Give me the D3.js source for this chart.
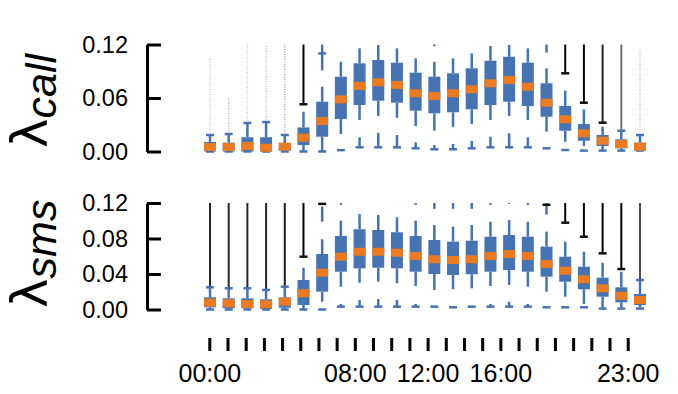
<!DOCTYPE html>
<html>
<head>
<meta charset="utf-8">
<script src="https://cdn.jsdelivr.net/npm/d3@7"></script>
<style>
  body { margin: 0; background: #fff; }
</style>
</head>
<body>
<div id="chart"></div>
<script>
var hours = [0, 1, 2, 3, 4, 5, 6, 7, 8, 9, 10, 11, 12, 13, 14, 15, 16, 17, 18, 19, 20, 21, 22, 23];
var labelledHours = [0, 8, 12, 16, 23];

// lambda call, per hour
var callQ1  = [0.000, 0.000, 0.000, 0.000, 0.001, 0.0073, 0.0166, 0.0364, 0.0521, 0.0570, 0.0547, 0.0458, 0.0428, 0.0440, 0.0473, 0.0521, 0.0558, 0.0510, 0.0390, 0.0233, 0.0121, 0.0062, 0.0036, 0.0010];
var callMed = [0.005, 0.005, 0.0062, 0.0043, 0.0054, 0.0155, 0.0342, 0.0585, 0.0735, 0.0776, 0.0746, 0.0653, 0.0622, 0.0653, 0.0698, 0.0765, 0.0802, 0.0727, 0.0547, 0.0361, 0.0204, 0.0121, 0.0084, 0.0054];
var callQ3  = [0.0107, 0.0100, 0.016, 0.016, 0.0095, 0.027, 0.0558, 0.0839, 0.0989, 0.1026, 0.0996, 0.0884, 0.0839, 0.0877, 0.0933, 0.1018, 0.1063, 0.0996, 0.0765, 0.051, 0.0308, 0.0185, 0.0137, 0.0099];
var callWLo = [0, 0, 0, 0, 0, 0, 0, 0.0196, 0.0353, 0.0398, 0.0379, 0.0286, 0.0233, 0.0278, 0.0308, 0.0353, 0.0398, 0.0353, 0.0222, 0.011, 0.0062, 0.001, 0.001, 0.001];
var callWHi = [0.0185, 0.0196, 0.032, 0.033, 0.0185, 0.0446, 0.0727, 0.1007, 0.1157, 0.1194, 0.1157, 0.1045, 0.1007, 0.1045, 0.110, 0.1183, 0.1194, 0.1157, 0.0933, 0.0682, 0.0473, 0.0278, 0.0233, 0.0185];
var callLowCap  = [0, 0, 0, 0, 0, 0, 0, 0.0015, 0.0047, 0.0047, 0.0047, 0.0036, 0.0025, 0.0025, 0.0036, 0.0047, 0.0047, 0.0047, 0.0036, 0.0017, 0.001, 0.001, 0.001, 0.001];
var callLowStem = [null, null, null, null, null, null, null, null, 0.0159, 0.021, 0.0185, 0.0103, 0.0073, 0.0084, 0.0118, 0.0166, 0.0204, 0.0159, null, null, null, null, null, null];
var callCapHi   = [0.0185, 0.0196, 0.032, 0.033, 0.0185, 0.053, 0.110, null, null, null, null, null, null, null, null, null, null, null, null, 0.0877, 0.0547, 0.0323, 0.0233, 0.0185];
var callOutTop  = [0.105, 0.060, 0.12, 0.12, 0.12, 0.12, null, null, null, null, null, null, null, null, null, null, null, null, null, 0.12, 0.12, 0.12, 0.12, 0.114];
var callOutDensity = [0.2, 0.25, 0.2, 0.25, 0.35, 1, 0, 0, 0, 0, 0, 0, 0, 0, 0, 0, 0, 0, 0, 1, 1, 0.85, 0.55, 0.25];
var callHiStemLo = [null, null, null, null, null, null, 0.091, null, null, null, null, null, 0.118, null, null, null, null, null, 0.111, null, null, null, null, null];
var callHiStemHi = [null, null, null, null, null, null, 0.12, null, null, null, null, null, 0.12, null, null, null, null, null, 0.12, null, null, null, null, null];

// lambda sms, per hour
var smsQ1  = [0.0025, 0.0014, 0.0014, 0.0006, 0.002, 0.0051, 0.0201, 0.0426, 0.0464, 0.0471, 0.0464, 0.0426, 0.040, 0.0389, 0.0397, 0.0426, 0.0445, 0.0426, 0.037, 0.0313, 0.0228, 0.0144, 0.0081, 0.0051];
var smsMed = [0.0077, 0.007, 0.0062, 0.0059, 0.0088, 0.0183, 0.0415, 0.0595, 0.0651, 0.0651, 0.064, 0.0603, 0.0566, 0.0558, 0.0566, 0.0603, 0.0625, 0.0603, 0.0513, 0.0437, 0.034, 0.0239, 0.0155, 0.0107];
var smsQ3  = [0.0137, 0.0126, 0.0126, 0.0115, 0.0137, 0.0332, 0.0625, 0.0828, 0.0904, 0.0896, 0.087, 0.0828, 0.0783, 0.0764, 0.0775, 0.082, 0.0839, 0.082, 0.0708, 0.0595, 0.0482, 0.0358, 0.025, 0.0175];
var smsWLo = [0, 0, 0, 0, 0, 0, 0.0088, 0.0257, 0.0302, 0.0313, 0.0295, 0.0265, 0.022, 0.0228, 0.0239, 0.0265, 0.0276, 0.0257, 0.020, 0.0144, 0.0062, 0.001, 0.001, 0.001];
var smsWHi = [0.025, 0.0239, 0.0239, 0.022, 0.0257, 0.0471, 0.0791, 0.1001, 0.1076, 0.1065, 0.1039, 0.1001, 0.0952, 0.0933, 0.0952, 0.0989, 0.1008, 0.0989, 0.0877, 0.0764, 0.0651, 0.0527, 0.0426, 0.0332];
var smsLowCap  = [0, 0, 0, 0, 0, 0, 0, 0.0032, 0.0032, 0.0032, 0.0032, 0.0032, 0.0032, 0.0025, 0.0032, 0.0032, 0.0032, 0.0032, 0.0025, 0.0025, 0.0025, 0.001, 0.001, 0.001];
var smsLowStem = [null, null, null, null, null, null, null, 0.0062, 0.0107, 0.0118, 0.0107, 0.0062, null, null, null, 0.0062, 0.0088, 0.0062, null, null, null, null, null, null];
var smsCapHi   = [0.025, 0.0239, 0.0239, 0.022, 0.0257, 0.0595, 0.119, null, null, null, null, null, null, null, null, null, null, null, 0.118, 0.0978, 0.082, 0.0633, 0.0456, 0.0332];
var smsOutTop  = [0.12, 0.12, 0.12, 0.12, 0.12, 0.12, null, null, null, null, null, null, null, null, null, null, null, null, null, 0.12, 0.12, 0.12, 0.12, 0.12];
var smsOutDensity = [0.85, 0.85, 0.85, 0.85, 0.9, 1, 1, 0, 0, 0, 0, 0, 0, 0, 0, 0, 0, 0, 1, 1, 1, 1, 1, 0.7];
var smsHiStemLo = [null, null, null, null, null, null, 0.099, 0.118, null, null, null, 0.118, 0.1135, 0.1135, 0.1135, 0.118, 0.119, 0.118, 0.107, null, null, null, null, null];
var smsHiStemHi = [null, null, null, null, null, null, 0.116, 0.12, null, null, null, 0.12, 0.12, 0.12, 0.12, 0.12, 0.12, 0.12, 0.12, null, null, null, null, null];

var callTicks = [0, 0.06, 0.12];
var smsTicks = [0, 0.04, 0.08, 0.12];

var width = 678, height = 394;
var blue = "#4673b1", orange = "#ea7b22";
var font = "'Liberation Sans', Arial, sans-serif";

var svg = d3.select("#chart").append("svg")
	.attr("width", width)
	.attr("height", height);

var x = d3.scaleLinear().domain([0, 23]).range([210, 640]);
var xTick = d3.scaleLinear().domain([0, 23]).range([209.3, 627.7]);

function drawPanel(p) {
	var y = d3.scaleLinear().domain([0, 0.12]).range([p.bottom, p.top]);
	var g = svg.append("g");

	var axis = d3.axisLeft(y)
		.tickValues(p.ticks)
		.tickSizeInner(-14)
		.tickSizeOuter(0)
		.tickPadding(19)
		.tickFormat(d3.format(".2f"));
	var ga = g.append("g")
		.attr("transform", "translate(147,0)")
		.call(axis);
	ga.select(".domain").attr("stroke-width", 3);
	ga.selectAll(".tick line").attr("stroke-width", 3);
	ga.selectAll(".tick text")
		.attr("fill", "#000")
		.style("font-family", font)
		.style("font-size", "23.5px");

	var label = g.append("text")
		.attr("transform", "translate(47," + p.labelY + ") rotate(-90)")
		.style("font-family", "'DejaVu Sans', sans-serif")
		.style("font-size", "50px")
		.attr("fill", "#000")
		.text("\u03bb");
	label.append("tspan")
		.attr("dy", 9)
		.style("font-family", font)
		.style("font-size", "43px")
		.style("font-style", "italic")
		.text(p.sub);

	var bw = 12, cw = 8;

	hours.forEach(function(h, i) {
		var cx = x(h);

		// outlier streaks
		if (p.outTop[i] !== null && p.density[i] > 0) {
			g.append("line")
				.attr("x1", cx).attr("x2", cx)
				.attr("y1", y(p.capHi[i])).attr("y2", y(p.outTop[i]))
				.attr("stroke", "#000")
				.attr("stroke-width", p.density[i] < 0.5 ? 1.5 : 2)
				.attr("stroke-opacity", p.density[i])
				.attr("stroke-dasharray", p.density[i] < 0.5 ? "1 1.5" : null);
		}
		if (p.hiStemLo[i] !== null) {
			g.append("line")
				.attr("x1", cx).attr("x2", cx)
				.attr("y1", y(p.hiStemLo[i])).attr("y2", y(p.hiStemHi[i]))
				.attr("stroke", blue)
				.attr("stroke-width", 2.5);
		}

		// whiskers
		g.append("line")
			.attr("x1", cx).attr("x2", cx)
			.attr("y1", y(p.q3[i])).attr("y2", y(p.wHi[i]))
			.attr("stroke", blue).attr("stroke-width", 2.5);
		g.append("line")
			.attr("x1", cx).attr("x2", cx)
			.attr("y1", y(p.q1[i])).attr("y2", y(p.wLo[i]))
			.attr("stroke", blue).attr("stroke-width", 2.5);

		// lower stem and cap
		if (p.lowStem[i] !== null) {
			g.append("line")
				.attr("x1", cx).attr("x2", cx)
				.attr("y1", y(p.lowCap[i])).attr("y2", y(p.lowStem[i]))
				.attr("stroke", blue).attr("stroke-width", 2.5);
		}
		g.append("line")
			.attr("x1", cx - cw / 2).attr("x2", cx + cw / 2)
			.attr("y1", y(p.lowCap[i])).attr("y2", y(p.lowCap[i]))
			.attr("stroke", blue).attr("stroke-width", 2.5);

		// upper cap
		if (p.capHi[i] !== null) {
			g.append("line")
				.attr("x1", cx - cw / 2).attr("x2", cx + cw / 2)
				.attr("y1", y(p.capHi[i])).attr("y2", y(p.capHi[i]))
				.attr("stroke", p.density[i] >= 0.8 && p.wHi[i] < p.capHi[i] ? "#111" : blue)
				.attr("stroke-width", 2.5);
		}

		// box
		g.append("rect")
			.attr("x", cx - bw / 2)
			.attr("y", y(p.q3[i]))
			.attr("width", bw)
			.attr("height", y(p.q1[i]) - y(p.q3[i]))
			.attr("fill", blue);

		// median
		g.append("rect")
			.attr("x", cx - bw / 2)
			.attr("y", y(p.med[i]) - 4)
			.attr("width", bw)
			.attr("height", 8)
			.attr("fill", orange);
	});
}

drawPanel({
	top: 44.5, bottom: 151.5, ticks: callTicks, sub: "call", labelY: 148,
	q1: callQ1, med: callMed, q3: callQ3, wLo: callWLo, wHi: callWHi,
	lowCap: callLowCap, lowStem: callLowStem, capHi: callCapHi,
	outTop: callOutTop, density: callOutDensity,
	hiStemLo: callHiStemLo, hiStemHi: callHiStemHi
});

drawPanel({
	top: 203, bottom: 309.5, ticks: smsTicks, sub: "sms", labelY: 308,
	q1: smsQ1, med: smsMed, q3: smsQ3, wLo: smsWLo, wHi: smsWHi,
	lowCap: smsLowCap, lowStem: smsLowStem, capHi: smsCapHi,
	outTop: smsOutTop, density: smsOutDensity,
	hiStemLo: smsHiStemLo, hiStemHi: smsHiStemHi
});

var xAxis = d3.axisBottom(xTick)
	.tickValues(hours)
	.tickSize(13)
	.tickPadding(13)
	.tickFormat(function(h) {
		return labelledHours.indexOf(h) >= 0 ? d3.format("02")(h) + ":00" : "";
	});

var gx = svg.append("g")
	.attr("transform", "translate(0,338)")
	.call(xAxis);
gx.select(".domain").remove();
gx.selectAll(".tick line").attr("stroke-width", 3);
gx.selectAll(".tick text")
	.attr("fill", "#000")
	.style("font-family", font)
	.style("font-size", "25px");
</script>
</body>
</html>
